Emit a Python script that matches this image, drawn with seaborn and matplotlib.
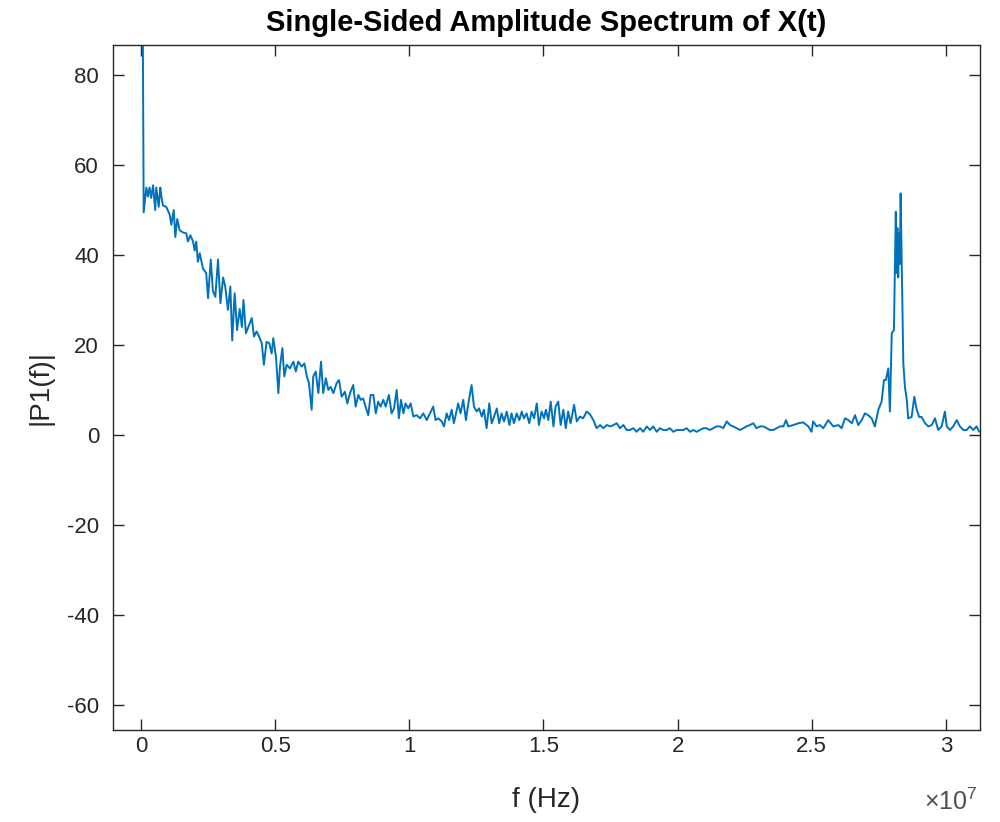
import numpy as np
import pandas as pd
import matplotlib
matplotlib.use("Agg")
import matplotlib.pyplot as plt
import seaborn as sns

# Frequency samples, in MHz
freq_mhz = [
    0.00, 0.07, 0.10, 0.20, 0.26, 0.32, 0.38, 0.45, 0.53, 0.57, 0.66, 0.72, 0.76, 0.82, 0.94,
    1.07, 1.13, 1.22, 1.28, 1.35, 1.44, 1.57, 1.69, 1.75, 1.84, 1.94, 2.00, 2.06, 2.12, 2.19,
    2.31, 2.43, 2.50, 2.60, 2.68, 2.77, 2.87, 2.96, 3.06, 3.14, 3.24, 3.33, 3.40, 3.49, 3.58,
    3.68, 3.76, 3.82, 3.91, 4.00, 4.13, 4.21, 4.31, 4.40, 4.50, 4.58, 4.68, 4.78, 4.87, 4.93,
    5.03, 5.12, 5.18, 5.27, 5.34, 5.43, 5.55, 5.68, 5.77, 5.86, 5.99, 6.09, 6.18, 6.26, 6.36,
    6.42, 6.51, 6.61, 6.71, 6.79, 6.89, 6.98, 7.07, 7.17, 7.29, 7.38, 7.48, 7.60, 7.69, 7.79,
    7.91, 8.00, 8.10, 8.19, 8.28, 8.39, 8.47, 8.56, 8.66, 8.75, 8.84, 8.93, 9.03, 9.12, 9.24,
    9.34, 9.43, 9.53, 9.61, 9.69, 9.78, 9.86, 9.96, 10.05, 10.15, 10.27, 10.40, 10.52, 10.65,
    10.77, 10.89, 10.98, 11.08, 11.21, 11.29, 11.39, 11.48, 11.58, 11.66, 11.82, 11.91, 12.01,
    12.11, 12.20, 12.32, 12.41, 12.51, 12.60, 12.70, 12.78, 12.88, 12.98, 13.07, 13.16, 13.26,
    13.35, 13.44, 13.53, 13.63, 13.73, 13.81, 13.90, 14.00, 14.10, 14.19, 14.27, 14.37, 14.47,
    14.56, 14.65, 14.75, 14.83, 14.93, 15.02, 15.09, 15.18, 15.27, 15.37, 15.45, 15.55, 15.64,
    15.74, 15.83, 15.92, 16.01, 16.14, 16.24, 16.36, 16.48, 16.61, 16.73, 16.86, 16.98, 17.11,
    17.23, 17.36, 17.48, 17.61, 17.73, 17.85, 17.98, 18.10, 18.22, 18.35, 18.47, 18.60, 18.72,
    18.85, 18.97, 19.09, 19.22, 19.34, 19.47, 19.59, 19.71, 19.84, 19.96, 20.21, 20.34, 20.46,
    20.58, 20.71, 20.83, 20.96, 21.08, 21.20, 21.33, 21.45, 21.58, 21.70, 21.83, 21.95, 22.07,
    22.20, 22.32, 22.45, 22.57, 22.69, 22.82, 22.94, 23.07, 23.19, 23.32, 23.44, 23.56, 23.69,
    23.81, 23.94, 24.04, 24.12, 24.31, 24.50, 24.68, 24.87, 24.99, 25.05, 25.18, 25.30, 25.43,
    25.61, 25.80, 25.99, 26.11, 26.24, 26.36, 26.49, 26.61, 26.73, 26.86, 26.98, 27.10, 27.23,
    27.35, 27.48, 27.60, 27.69, 27.76, 27.85, 27.91, 27.98, 28.06, 28.13, 28.16, 28.19, 28.22,
    28.25, 28.28, 28.31, 28.36, 28.41, 28.47, 28.54, 28.59, 28.72, 28.82, 28.91, 29.00, 29.09,
    29.22, 29.34, 29.47, 29.59, 29.71, 29.84, 29.96, 30.03, 30.15, 30.27, 30.40, 30.52, 30.65,
    30.77, 30.89, 31.02, 31.14, 31.24,
]

# Single-sided amplitude |P1(f)|
amplitude = [
    100.0, 88.0, 49.5, 55.0, 53.0, 55.0, 52.7, 55.5, 50.0, 55.0, 50.7, 55.0, 53.0, 51.0, 50.7,
    49.0, 46.7, 50.0, 44.0, 48.0, 45.5, 45.0, 44.8, 43.0, 44.4, 43.0, 41.0, 43.0, 38.5, 40.4,
    37.0, 36.0, 30.4, 39.0, 32.0, 30.7, 39.0, 29.3, 35.0, 33.0, 27.8, 33.0, 21.0, 31.5, 23.3,
    28.0, 24.0, 30.0, 22.6, 24.0, 26.0, 21.9, 23.0, 21.9, 20.4, 15.6, 20.7, 20.4, 18.1, 21.5,
    17.4, 9.3, 15.2, 19.3, 13.0, 15.6, 14.8, 16.3, 14.1, 16.3, 15.2, 15.9, 13.0, 11.5, 5.6,
    13.0, 14.1, 9.3, 16.3, 9.3, 12.6, 10.0, 10.7, 9.3, 11.5, 12.2, 8.5, 9.6, 7.0, 9.3,
    11.1, 6.3, 8.9, 7.8, 8.1, 5.9, 4.4, 8.9, 8.9, 4.8, 7.4, 6.3, 7.8, 6.3, 8.9,
    4.8, 5.9, 10.0, 3.7, 7.8, 4.8, 7.0, 5.9, 7.0, 4.1, 4.4, 3.7, 4.8, 3.3,
    4.8, 6.3, 3.3, 3.7, 3.0, 1.9, 4.8, 3.3, 5.6, 2.6, 7.0, 4.8, 7.8,
    3.3, 7.0, 11.1, 6.3, 5.2, 5.9, 4.1, 5.6, 1.5, 7.0, 2.6, 4.1, 5.9,
    2.6, 4.8, 3.0, 5.2, 2.2, 4.8, 2.6, 4.8, 3.3, 5.2, 3.7, 4.8, 2.6,
    5.2, 3.7, 7.0, 2.2, 5.2, 3.7, 5.6, 3.3, 7.4, 1.9, 6.3, 7.4, 2.2,
    5.6, 1.5, 5.2, 2.6, 6.7, 3.0, 4.1, 3.7, 5.2, 4.6, 3.3, 1.5, 2.2,
    1.5, 2.2, 1.9, 2.2, 2.6, 1.5, 2.2, 1.1, 1.1, 1.5, 0.7, 1.5, 0.7,
    1.9, 1.1, 1.9, 0.7, 1.5, 1.1, 1.1, 1.5, 0.7, 1.1, 1.1, 1.5, 0.7,
    1.1, 0.7, 1.1, 1.5, 1.5, 1.1, 1.5, 1.9, 1.9, 1.5, 3.0, 2.2, 1.9,
    1.5, 1.1, 1.5, 1.9, 2.2, 2.6, 1.5, 1.9, 1.9, 1.5, 1.1, 1.1, 1.5,
    1.9, 1.9, 3.3, 1.9, 2.2, 2.6, 2.8, 1.9, 0.7, 3.0, 1.9, 2.2, 1.5,
    3.3, 1.9, 2.2, 1.5, 3.7, 3.3, 2.6, 4.4, 2.2, 3.3, 4.8, 4.4, 3.7,
    1.9, 5.6, 7.4, 12.2, 12.2, 14.8, 5.2, 22.6, 23.3, 49.6, 36.0, 46.0, 35.0,
    44.8, 38.0, 53.7, 34.4, 15.9, 10.7, 7.8, 3.7, 4.0, 8.5, 5.6, 4.0, 4.0,
    2.6, 1.9, 2.2, 3.7, 1.1, 1.9, 5.2, 1.9, 1.1, 1.9, 3.3, 1.9, 1.1,
    1.1, 1.9, 1.1, 1.9, 0.7,
]

x_ticks = [0, 0.5e7, 1.0e7, 1.5e7, 2.0e7, 2.5e7, 3.0e7]
x_tick_labels = ["0", "0.5", "1", "1.5", "2", "2.5", "3"]
y_ticks = [-60, -40, -20, 0, 20, 40, 60, 80]

df = pd.DataFrame({"f": np.array(freq_mhz) * 1e6, "P1": amplitude})

sns.set_style("white")
plt.rcParams["font.family"] = ["Liberation Sans", "DejaVu Sans"]
plt.rcParams["axes.unicode_minus"] = False
plt.rcParams["mathtext.fontset"] = "custom"
plt.rcParams["mathtext.rm"] = "Liberation Sans"

fig = plt.figure(figsize=(10, 8.22), dpi=100)
ax = fig.add_axes([0.113, 0.1119, 0.867, 0.8334])

sns.lineplot(data=df, x="f", y="P1", ax=ax, color="#0072BD", linewidth=1.4,
             estimator=None, sort=False)

ax.set_xlim(-1.043e6, 3.1268e7)
ax.set_ylim(-65.6, 86.7)
ax.set_xticks(x_ticks)
ax.set_xticklabels(x_tick_labels)
ax.set_yticks(y_ticks)

edge = "#262626"
for s in ax.spines.values():
    s.set_color(edge)
    s.set_linewidth(1.0)
    s.set_visible(True)
ax.tick_params(direction="in", length=8, width=1.0, colors=edge, labelsize=16,
               top=True, right=True, bottom=True, left=True)
ax.tick_params(axis="x", pad=4)
ax.tick_params(axis="y", pad=10)

fig.text(0.978, 0.025, r"$\times\mathregular{10^{7}}$", ha="right", va="center",
         fontsize=18, color="#505050")

ax.set_title("Single-Sided Amplitude Spectrum of X(t)", fontsize=21, fontweight="bold",
             color="black", pad=10)
ax.set_xlabel("f (Hz)", fontsize=20, color="#262626", labelpad=22)
ax.set_ylabel("|P1(f)|", fontsize=20, color="#262626", labelpad=10)
ax.grid(False)

fig.savefig("out.png", dpi=100)
